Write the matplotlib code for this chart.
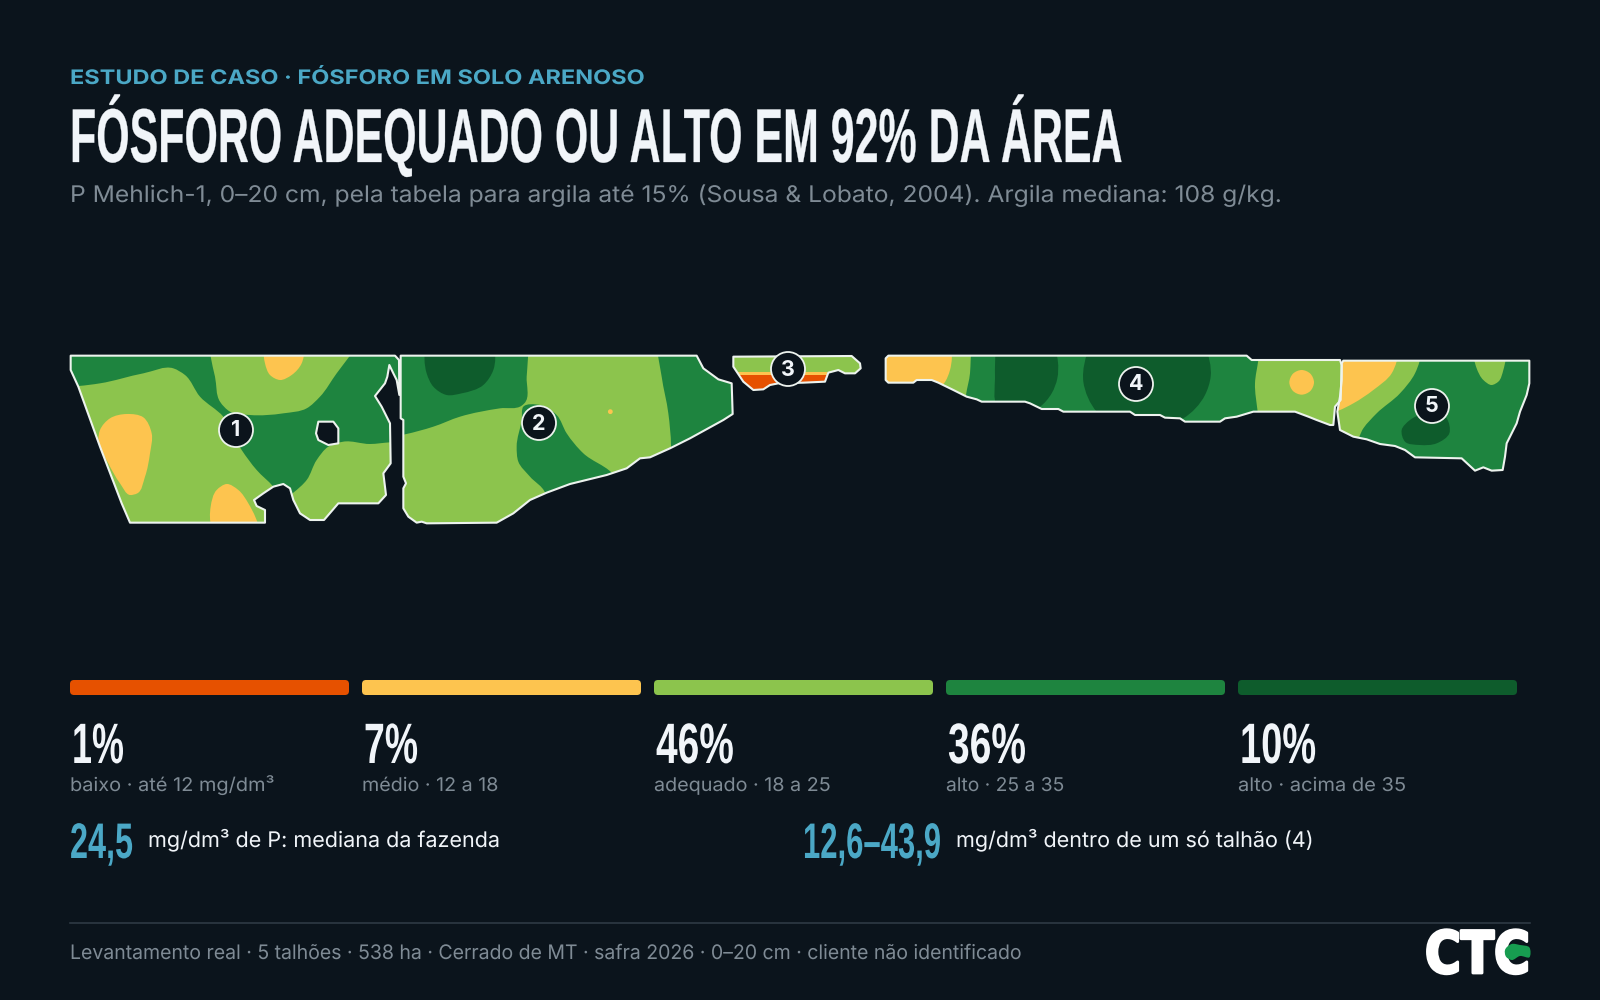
import matplotlib
matplotlib.use("Agg")
import matplotlib.pyplot as plt
import numpy as np
from matplotlib.patches import Circle, FancyBboxPatch, PathPatch
from matplotlib.patheffects import AbstractPathEffect
from matplotlib.path import Path
from matplotlib.transforms import Affine2D

# class shares and labels
shares = [1, 7, 46, 36, 10]
classes = ["baixo · até 12 mg/dm³", "médio · 12 a 18", "adequado · 18 a 25",
           "alto · 25 a 35", "alto · acima de 35"]
median_value = "24,5"
median_text = "mg/dm³ de P: mediana da fazenda"
range_value = "12,6–43,9"
range_text = "mg/dm³ dentro de um só talhão (4)"

eyebrow = "ESTUDO DE CASO · FÓSFORO EM SOLO ARENOSO"
title = "FÓSFORO ADEQUADO OU ALTO EM 92% DA ÁREA"
subtitle = "P Mehlich-1, 0–20 cm, pela tabela para argila até 15% (Sousa & Lobato, 2004). Argila mediana: 108 g/kg."
footer = "Levantamento real · 5 talhões · 538 ha · Cerrado de MT · safra 2026 · 0–20 cm · cliente não identificado"

BG = "#0b141c"
ORANGE, YELLOW, LIGHT, MID, DARK = "#e65100", "#fdc44f", "#8cc44d", "#1e843f", "#0e5c2c"
class_colors = [ORANGE, YELLOW, LIGHT, MID, DARK]
TEAL = "#4ba8c6"
WHITE = "#f1f5f9"
GREY = "#7f8b95"
EDGE = "#edf3ee"

# text widths in pixels, so the substitute fonts keep the original line lengths
share_w = [52, 54, 78, 78, 76]
class_w = [204, 136, 176, 118, 168]

f1_origin = (50, 340)
f1_outline = [(62, 47), (1035, 47), (1047, 60), (1048, 165), (1040, 120), (1030, 100), (1018, 75),
              (1012, 110), (1005, 130), (975, 168), (995, 200), (1020, 250), (1022, 370), (1000, 400),
              (1008, 465), (985, 490), (865, 490), (822, 540), (780, 540), (750, 520), (730, 480),
              (720, 445), (700, 432), (670, 440), (640, 460), (612, 480), (620, 498), (645, 510),
              (645, 548), (240, 548), (215, 490), (150, 320), (85, 140), (62, 90)]
f1_hole = [(805, 245), (850, 245), (865, 265), (865, 310), (835, 315), (805, 300), (798, 280)]
f1_zones = [
    (MID, [(30, 20), (478, 20), (482, 50), (495, 110), (510, 185), (540, 215), (600, 225), (700, 220),
           (770, 205), (810, 170), (860, 100), (900, 47), (920, 20), (1070, 20), (1070, 305), (1020, 307),
           (960, 312), (880, 305), (835, 320), (800, 360), (770, 420), (730, 458), (700, 480), (670, 440),
           (620, 390), (575, 330), (520, 230), (450, 170), (405, 105), (370, 85), (280, 100), (150, 130),
           (85, 138), (30, 140)]),
    (YELLOW, [(642, 30), (762, 30), (755, 70), (725, 105), (690, 120), (660, 105), (645, 70)]),
    (YELLOW, [(150, 270), (180, 235), (230, 222), (280, 232), (305, 280), (300, 340), (285, 410),
              (262, 460), (240, 465), (210, 430), (175, 370), (145, 300)]),
    (YELLOW, [(485, 560), (482, 500), (500, 450), (530, 432), (565, 450), (595, 490), (625, 570)]),
]

f2_origin = (390, 340)
f2_outline = [(32, 47), (920, 47), (940, 85), (985, 118), (1025, 130), (1028, 222), (1000, 240),
              (900, 295), (840, 325), (780, 352), (750, 355), (710, 385), (650, 405), (540, 432),
              (470, 458), (420, 480), (370, 520), (320, 548), (110, 550), (95, 545), (80, 548),
              (55, 530), (40, 505), (40, 445), (48, 430), (40, 410), (40, 240), (32, 235)]
f2_zones = [
    (MID, [(10, 20), (412, 20), (410, 110), (403, 190), (395, 197), (330, 205), (210, 230), (130, 260),
           (45, 283), (10, 290)]),
    (DARK, [(108, 20), (312, 20), (310, 90), (280, 135), (215, 160), (170, 165), (130, 140), (110, 100)]),
    (MID, [(400, 200), (450, 195), (500, 225), (530, 280), (580, 340), (665, 398), (700, 440), (470, 480),
           (465, 458), (420, 410), (385, 365), (380, 320), (395, 240)]),
    (MID, [(805, 20), (1060, 20), (1060, 320), (843, 330), (843, 318), (835, 220), (815, 110)]),
]
f2_dot = (661, 215)

f3_origin = (390, 340)
f3_outline = [(1030, 50), (1385, 48), (1410, 70), (1412, 85), (1395, 100), (1365, 100), (1345, 90),
              (1315, 98), (1305, 125), (1240, 128), (1165, 130), (1140, 135), (1120, 148), (1090, 150),
              (1060, 125), (1030, 80)]
f3_zones = [
    (YELLOW, [(1000, 96), (1312, 96), (1312, 160), (1000, 160)]),
    (ORANGE, [(1000, 104), (1312, 104), (1312, 160), (1000, 160)]),
]

f4_origin = (870, 340)
f4_outline = [(47, 55), (55, 47), (1130, 47), (1145, 60), (1410, 60), (1415, 75), (1412, 180), (1395, 200),
              (1390, 255), (1380, 255), (1340, 240), (1315, 230), (1275, 215), (1150, 215), (1100, 230),
              (1065, 235), (1050, 245), (945, 245), (930, 235), (885, 233), (870, 225), (795, 225),
              (780, 215), (580, 215), (565, 207), (515, 207), (480, 190), (465, 185), (335, 185),
              (320, 178), (290, 170), (250, 150), (205, 128), (185, 120), (140, 120), (130, 128),
              (55, 128), (47, 120)]
f4_zones = [
    (YELLOW, [(20, 20), (243, 20), (240, 90), (222, 130), (180, 160), (20, 160)]),
    (MID, [(305, 20), (302, 60), (300, 100), (288, 165), (280, 270), (1170, 270), (1163, 215), (1155, 130),
           (1165, 60), (1170, 20)]),
    (DARK, [(385, 20), (550, 20), (562, 115), (545, 160), (510, 200), (380, 195), (375, 115)]),
    (DARK, [(660, 20), (1005, 20), (1022, 110), (1005, 165), (940, 235), (850, 260), (680, 215), (640, 125)]),
    (YELLOW, [(1295, 90), (1321, 101), (1332, 127), (1321, 153), (1295, 164), (1269, 153), (1258, 127),
              (1269, 101)]),
]

f5_origin = (1320, 340)
f5_outline = [(70, 62), (628, 62), (628, 130), (620, 165), (600, 215), (590, 250), (560, 310), (555, 350),
              (548, 390), (515, 392), (490, 382), (465, 392), (425, 355), (285, 352), (255, 330),
              (225, 318), (180, 312), (140, 298), (100, 290), (60, 270), (52, 215), (60, 170), (65, 120),
              (65, 70)]
f5_zones = [
    (LIGHT, [(30, 30), (305, 30), (285, 100), (240, 160), (170, 220), (130, 265), (105, 310), (30, 310)]),
    (YELLOW, [(30, 30), (235, 30), (215, 100), (160, 150), (100, 190), (55, 212), (30, 220)]),
    (LIGHT, [(462, 30), (555, 30), (550, 90), (535, 125), (515, 135), (490, 120), (470, 85)]),
    (DARK, [(245, 270), (270, 240), (310, 222), (380, 235), (388, 280), (350, 310), (300, 315), (255, 305)]),
]

# label number and centre of each field, in pixels
field_ids = ["1", "2", "3", "4", "5"]
field_label_xy = [(236, 430), (539, 423), (788, 369), (1136, 384), (1432, 406)]


class Stretch(AbstractPathEffect):
    """Scale the glyphs vertically about the baseline, the fonts here have no condensed cut."""

    def __init__(self, sx, sy, x0, y0, stroke=0):
        self.sx, self.sy, self.x0, self.y0, self.stroke = sx, sy, x0, y0, stroke

    def draw_path(self, renderer, gc, tpath, affine, rgbFace=None):
        aff = affine + Affine2D().translate(-self.x0, -self.y0).scale(self.sx, self.sy) \
            .translate(self.x0, self.y0)
        gc0 = renderer.new_gc()
        gc0.copy_properties(gc)
        gc0.set_linewidth(self.stroke)
        gc0.set_foreground(rgbFace)
        gc0.set_joinstyle("round")
        renderer.draw_path(gc0, tpath, aff, rgbFace)
        gc0.restore()


def crop_px(pts, origin):
    return np.array(pts, dtype=float) / 3 + origin


def smooth_path(pts):
    # closed spline through the traced points; chord weights keep the long hidden
    # edges outside a field from pulling on the visible curve
    n = len(pts)
    d = np.linalg.norm(np.roll(pts, -1, axis=0) - pts, axis=1)
    m = []
    for i in range(n):
        d0, d1 = d[i - 1], d[i]
        m.append(((pts[i] - pts[i - 1]) / d0 * d1 + (pts[(i + 1) % n] - pts[i]) / d1 * d0) / (d0 + d1))
    verts, codes = [pts[0]], [Path.MOVETO]
    for i in range(n):
        j = (i + 1) % n
        verts += [pts[i] + m[i] * d[i] / 3, pts[j] - m[j] * d[i] / 3, pts[j]]
        codes += [Path.CURVE4] * 3
    return Path(verts, codes)


def ring(pts, clockwise):
    area = 0.5 * np.sum(pts[:, 0] * np.roll(pts[:, 1], -1) - np.roll(pts[:, 0], -1) * pts[:, 1])
    if (area > 0) != clockwise:
        pts = pts[::-1]
    verts = np.vstack([pts, pts[:1]])
    codes = [Path.MOVETO] + [Path.LINETO] * (len(pts) - 1) + [Path.CLOSEPOLY]
    return verts, codes


def draw_field(ax, outline, origin, zones, base=LIGHT, hole=None, sharp=False):
    verts, codes = ring(crop_px(outline, origin), True)
    if hole is not None:
        v2, c2 = ring(crop_px(hole, origin), False)
        verts, codes = np.vstack([verts, v2]), codes + c2
    shape = Path(verts, codes)
    field = PathPatch(shape, fc=base, ec="none", zorder=2)
    ax.add_patch(field)
    for color, pts in zones:
        xy = crop_px(pts, origin)
        if sharp:
            zone = PathPatch(Path(*ring(xy, True)), fc=color, ec="none", zorder=3)
        else:
            zone = PathPatch(smooth_path(xy), fc=color, ec="none", zorder=3)
        ax.add_patch(zone)
        zone.set_clip_path(field)
    ax.add_patch(PathPatch(shape, fc="none", ec=EDGE, lw=1.5, joinstyle="round", zorder=4))
    return field


def put_text(ax, x, y, s, width, size, color, family, weight="normal", stroke=0, **kw):
    # size sets the letter height, width the length in pixels: the font is set
    # to fit the width and the glyphs are stretched back up to the height
    t = ax.text(x, y, s, fontsize=size, color=color, family=family, weight=weight,
                ha="left", va="baseline", zorder=6, **kw)
    rend = fig.canvas.get_renderer()
    fitted = size * width / t.get_window_extent(rend).width
    t.set_fontsize(fitted)
    sx = width / t.get_window_extent(rend).width
    t.set_path_effects([Stretch(sx, size / fitted, x, 1000 - y, stroke)])
    return t


SANS = ["Inter", "Open Sans", "DejaVu Sans"]
NARROW = ["Liberation Sans Narrow", "Liberation Sans", "DejaVu Sans"]

fig = plt.figure(figsize=(16, 10), dpi=100, facecolor=BG)
ax = fig.add_axes([0, 0, 1, 1])
ax.set_xlim(0, 1600)
ax.set_ylim(1000, 0)
ax.axis("off")

# header
put_text(ax, 70, 84, eyebrow, 575, 14.4, TEAL, SANS, weight="bold")
put_text(ax, 70, 162, title, 1050, 55, WHITE, NARROW, weight="bold", stroke=0.2)
put_text(ax, 70, 202, subtitle, 1211, 16.5, GREY, SANS)

# map
draw_field(ax, f1_outline, f1_origin, f1_zones, hole=f1_hole)
draw_field(ax, f2_outline, f2_origin, f2_zones)
draw_field(ax, f3_outline, f3_origin, f3_zones, sharp=True)
draw_field(ax, f4_outline, f4_origin, f4_zones)
draw_field(ax, f5_outline, f5_origin, f5_zones, base=MID)
dot = crop_px([f2_dot], f2_origin)[0]
ax.add_patch(Circle(dot, 2.4, fc=YELLOW, ec="none", zorder=4))

for fid, (x, y) in zip(field_ids, field_label_xy):
    ax.add_patch(Circle((x, y), 17, fc=BG, ec=EDGE, lw=1.3, zorder=5))
    ax.text(x, y + 0.5, fid, color=WHITE, fontsize=15.5, weight="bold", family=SANS,
            ha="center", va="center", zorder=6)

# class bars and their shares
bar_w, bar_step = 279, 292
for i, (share, label, color) in enumerate(zip(shares, classes, class_colors)):
    x = 70 + i * bar_step
    ax.add_patch(FancyBboxPatch((x + 4, 684), bar_w - 8, 7, boxstyle="round,pad=4,rounding_size=4",
                                fc=color, ec="none", zorder=2))
    put_text(ax, x + 2, 763, f"{share}%", share_w[i], 41, WHITE, NARROW, weight="bold")
    put_text(ax, x, 791, label, class_w[i], 13.6, GREY, SANS)

# headline numbers
put_text(ax, 70, 858, median_value, 63, 36, TEAL, NARROW, weight="bold")
put_text(ax, 148, 847, median_text, 352, 15.5, WHITE, SANS)
put_text(ax, 803, 858, range_value, 138, 36, TEAL, NARROW, weight="bold")
put_text(ax, 956, 847, range_text, 357, 15.5, WHITE, SANS)

# footer and logo
ax.plot([70, 1530], [923, 923], color="#2e3a44", lw=1.2, zorder=2)
put_text(ax, 70, 959, footer, 952, 14.4, GREY, SANS)
put_text(ax, 1425, 973, "CTC", 105, 42, "white", ["DejaVu Sans"], weight="bold", stroke=2)
logo_blob = crop_px([(375, 150), (395, 132), (420, 135), (448, 142), (448, 172), (420, 168), (395, 180),
                     (378, 170)], (1380, 900))
ax.add_patch(PathPatch(smooth_path(logo_blob), fc="#179c50", ec="none", zorder=7))

fig.savefig("out.png", dpi=100, facecolor=BG)
